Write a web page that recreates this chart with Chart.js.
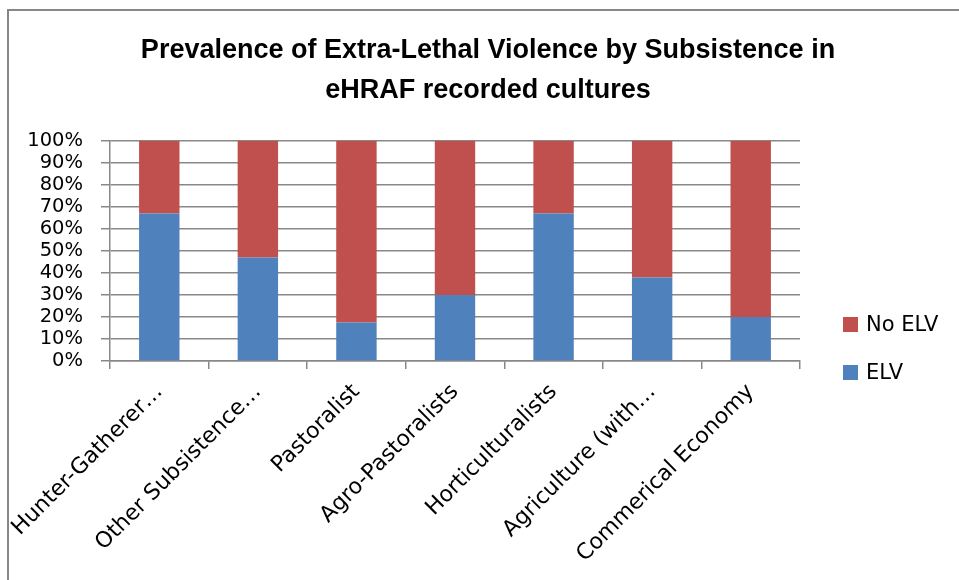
<!DOCTYPE html>
<html>
<head>
<meta charset="utf-8">
<script src="https://cdn.jsdelivr.net/npm/chart.js@4/dist/chart.umd.min.js"></script>
<style>
html,body{margin:0;padding:0;background:#fff;}
canvas{display:block;}
</style>
</head>
<body>
<canvas id="c" width="959" height="580"></canvas>
<script>
// ---- data ----
const categories = ["Hunter-Gatherer…", "Other Subsistence…", "Pastoralist", "Agro-Pastoralists", "Horticulturalists", "Agriculture (with…", "Commerical Economy"];
const elvValues = [67, 47, 17.5, 30, 67, 38, 20];
const noElvValues = [33, 53, 82.5, 70, 33, 62, 80];
const seriesNames = ["ELV", "No ELV"];
const yTickValues = [0, 10, 20, 30, 40, 50, 60, 70, 80, 90, 100];
const titleLines = ["Prevalence of Extra-Lethal Violence by Subsistence in", "eHRAF recorded cultures"];

// ---- styles ----
const BLUE = '#4F81BD';
const RED = '#C0504D';
const GRID = '#888888';
const TICK_FONT = 'DejaVu Sans';

const framePlugin = {
  id: 'frameAndTitle',
  beforeDraw(chart) {
    const ctx = chart.ctx;
    ctx.save();
    ctx.fillStyle = '#fff';
    ctx.fillRect(0, 0, chart.width, chart.height);
    ctx.fillStyle = '#878787';
    ctx.fillRect(7, 9, chart.width - 7, 2);
    ctx.fillRect(7, 9, 2, chart.height - 9);
    ctx.fillStyle = '#000';
    ctx.font = 'bold 27px "Liberation Sans"';
    ctx.textAlign = 'center';
    ctx.textBaseline = 'alphabetic';
    titleLines.forEach((t, i) => ctx.fillText(t, 488, 58 + i * 40));
    ctx.restore();
  },
  afterDraw(chart) {
    const ctx = chart.ctx;
    const ds = chart.data.datasets.slice().reverse();
    ctx.save();
    ctx.font = '21px "' + TICK_FONT + '"';
    ctx.textBaseline = 'middle';
    ctx.textAlign = 'left';
    ds.forEach((d, i) => {
      const cy = 324.5 + i * 48;
      ctx.fillStyle = d.backgroundColor;
      ctx.fillRect(843, cy - 7.5, 15, 15);
      ctx.fillStyle = '#000';
      ctx.fillText(d.label, 866, cy + 1);
    });
    ctx.restore();
  }
};

new Chart(document.getElementById('c'), {
  type: 'bar',
  data: {
    labels: categories,
    datasets: [
      { label: seriesNames[0], data: elvValues, backgroundColor: BLUE, categoryPercentage: 1, barPercentage: 0.41 },
      { label: seriesNames[1], data: noElvValues, backgroundColor: RED, categoryPercentage: 1, barPercentage: 0.41 }
    ]
  },
  options: {
    responsive: false,
    animation: false,
    devicePixelRatio: 1,
    layout: { padding: { top: 141, left: 0, right: 159, bottom: 0 } },
    plugins: {
      legend: { display: false },
      title: { display: false },
      tooltip: { enabled: false }
    },
    scales: {
      x: {
        stacked: true,
        grid: { offset: true, drawOnChartArea: false, color: GRID, lineWidth: 1.5, tickLength: 8 },
        border: { color: GRID, width: 1.5 },
        ticks: {
          autoSkip: false, maxRotation: 45, minRotation: 45, padding: 10,
          color: '#000', font: { family: TICK_FONT, size: 22 }
        },
        afterFit(scale) { scale.height = 219; scale.paddingLeft = 0; scale.paddingRight = 0; }
      },
      y: {
        stacked: true,
        min: 0, max: 100,
        afterBuildTicks(scale) { scale.ticks = yTickValues.map(v => ({ value: v })); },
        grid: { color: GRID, lineWidth: 1.5, tickLength: 9 },
        border: { color: GRID, width: 1.5 },
        ticks: {
          autoSkip: false, padding: 18, color: '#000',
          font: { family: TICK_FONT, size: 19.5 },
          callback: v => v + '%'
        },
        afterFit(scale) { scale.width = 110; scale.paddingTop = 0; scale.paddingBottom = 0; }
      }
    }
  },
  plugins: [framePlugin]
});
</script>
</body>
</html>
